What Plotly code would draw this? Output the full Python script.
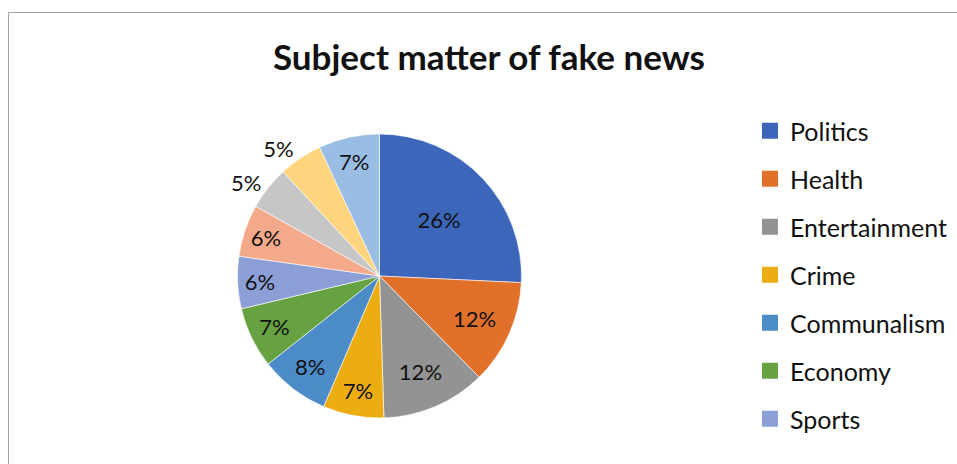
import plotly.graph_objects as go

# Subject categories and their share (%) of fake news items
subjects = ["Politics", "Health", "Entertainment", "Crime", "Communalism",
            "Economy", "Sports", "Other 1", "Other 2", "Other 3", "Other 4"]
shares = [26, 12, 12, 7, 8, 7, 6, 6, 5, 5, 7]
legend_count = 7  # only the first seven categories are listed in the key

colors = ["#3B66BA", "#E0702A", "#939393", "#EBAD12", "#4B8BC8", "#66A142",
          "#8C9ED6", "#F3A98A", "#C6C6C6", "#FFD47F", "#9ABDE4"]

W, H = 957, 464
FONT = "Lato"

# pie geometry in pixels
cx, cy, r = 379.5, 276.0, 142.0

positions = ["outside" if s == 5 else "inside" for s in shares]

fig = go.Figure()
fig.add_trace(go.Pie(
    labels=subjects,
    values=shares,
    sort=False,
    direction="clockwise",
    rotation=0,
    marker=dict(colors=colors, line=dict(color="white", width=0.6)),
    texttemplate="%{value}%",
    textposition=positions,
    insidetextorientation="horizontal",
    textfont=dict(family=FONT, size=22, color="#111111"),
    outsidetextfont=dict(family=FONT, size=22, color="#111111"),
    hoverinfo="label+percent",
    showlegend=False,
    domain=dict(x=[(cx - r) / W, (cx + r) / W],
                y=[1 - (cy + r) / H, 1 - (cy - r) / H]),
))

# key entries for the listed categories
for name, col in zip(subjects[:legend_count], colors[:legend_count]):
    fig.add_trace(go.Scatter(
        x=[None], y=[None], mode="markers", name=name,
        marker=dict(symbol="square", size=16, color=col),
        legendgroup=name, showlegend=True, hoverinfo="skip",
    ))

fig.update_layout(
    width=W, height=H,
    margin=dict(l=0, r=0, t=0, b=0),
    paper_bgcolor="white",
    plot_bgcolor="white",
    title=dict(text="<b>Subject matter of fake news</b>",
               x=489 / W, xanchor="center",
               y=1 - 58 / H, yanchor="middle",
               font=dict(family=FONT, size=35, color="#111111")),
    xaxis=dict(visible=False, range=[0, 1]),
    yaxis=dict(visible=False, range=[0, 1]),
    legend=dict(x=750 / W, xanchor="left", y=1 - 108 / H, yanchor="top",
                font=dict(family=FONT, size=25, color="#111111"),
                tracegroupgap=12.5, itemwidth=30,
                bgcolor="rgba(0,0,0,0)"),
    shapes=[dict(type="rect", xref="paper", yref="paper",
                 x0=8.5 / W, x1=1.05, y0=-0.05, y1=1 - 12.5 / H,
                 line=dict(color="#A3A3A3", width=1))],
)

fig.write_html("out.html")
